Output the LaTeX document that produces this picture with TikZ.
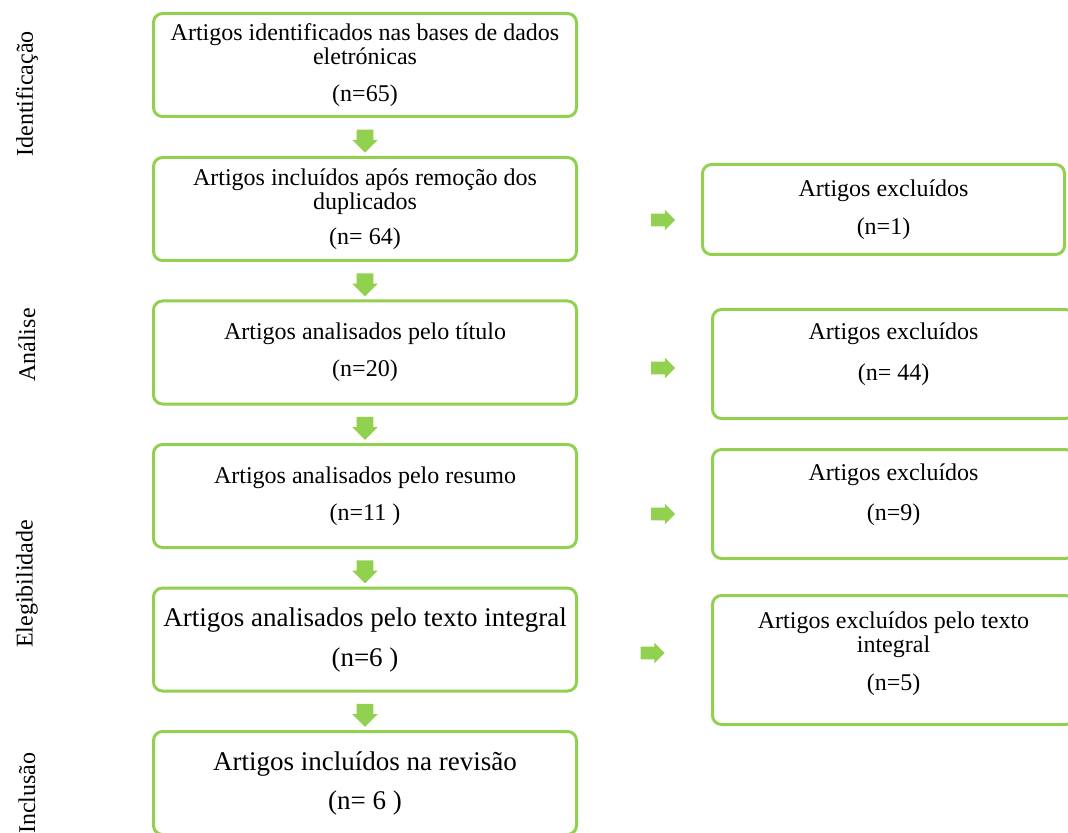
\documentclass[tikz,border=0pt]{standalone}
\usepackage{fontspec}
\setmainfont{Liberation Serif}
\usepackage{tikz}
\usetikzlibrary{shapes.arrows, calc}
\definecolor{prismagreen}{RGB}{146, 208, 80}

\tikzset{
  etapa/.style={draw=prismagreen, line width=1.5pt, rounded corners=4.5pt, align=center, minimum width=211.5pt, minimum height=51.5pt, inner sep=0pt, font=\fontsize{12}{12}\selectfont},
  etapagrande/.style={etapa, font=\fontsize{13.5}{13.5}\selectfont},
  excluidos/.style={etapa, minimum width=181pt},
  seta/.style={single arrow, fill=prismagreen, draw=none, inner xsep=4pt, inner ysep=0pt, minimum height=11.5pt, single arrow head extend=2.25pt, shape border rotate=270},
  setadir/.style={seta, inner xsep=0pt, inner ysep=3pt, minimum height=12pt, single arrow head extend=2pt, shape border rotate=0},
  fase/.style={rotate=90, inner sep=0pt, font=\fontsize{12}{12}\selectfont}
}

\begin{document}
\begin{tikzpicture}[x=0.5pt, y=-0.5pt]
  \useasboundingbox (0,0) rectangle (1068,833);
  \clip (0,0) rectangle (1068,833);

  \node[fase] (fident) at (27,94) {Identificação};
  \node[fase] (fanal) at (27,345) {Análise};
  \node[fase] (feleg) at (27,584) {Elegibilidade};
  \node[fase] (fincl) at (27,793) {Inclusão};

  \node[etapa] (ident) at (365,65) {Artigos identificados nas bases de dados\\ eletrónicas\\[6.5pt] (n=65)};
  \node[etapa] (dupl) at (365,209) {Artigos incluídos após remoção dos\\ duplicados\\[5.5pt] (n= 64)};
  \node[etapa] (titulo) at (365,352.5) {Artigos analisados pelo título\\[6.5pt] (n=20)};
  \node[etapa] (resumo) at (365,496) {Artigos analisados pelo resumo\\[6.5pt] (n=11 )};
  \node[etapagrande] (texto) at (365,639.5) {Artigos analisados pelo texto integral\\[6.5pt] (n=6 )};
  \node[etapagrande] (revisao) at (365,783) {Artigos incluídos na revisão\\[6pt] (n= 6 )};

  \node[excluidos, minimum height=45pt] (exdupl) at (883.5,209.5) {Artigos excluídos\\[7pt] (n=1)};
  \node[excluidos, minimum height=54.5pt, text depth=12pt] (extitulo) at (893.5,364) {Artigos excluídos\\[8.5pt] (n= 44)};
  \node[excluidos, minimum height=54.5pt, text depth=12pt] (exresumo) at (893.5,504) {Artigos excluídos\\[8pt] (n=9)};
  \node[excluidos, minimum height=64.5pt, text depth=8.6pt] (extexto) at (893.5,660) {Artigos excluídos pelo texto\\ integral\\[7pt] (n=5)};

  \node[seta] (s1) at ($(ident.south)!0.5!(dupl.north)$) {};
  \node[seta] (s2) at ($(dupl.south)!0.5!(titulo.north)$) {};
  \node[seta] (s3) at ($(titulo.south)!0.5!(resumo.north)$) {};
  \node[seta] (s4) at ($(resumo.south)!0.5!(texto.north)$) {};
  \node[seta] (s5) at ($(texto.south)!0.5!(revisao.north)$) {};

  \node[setadir] (d1) at (660,220) {};
  \node[setadir] (d2) at (660,368) {};
  \node[setadir] (d3) at (660,514) {};
  \node[setadir] (d4) at (649.5,653) {};
\end{tikzpicture}
\end{document}
